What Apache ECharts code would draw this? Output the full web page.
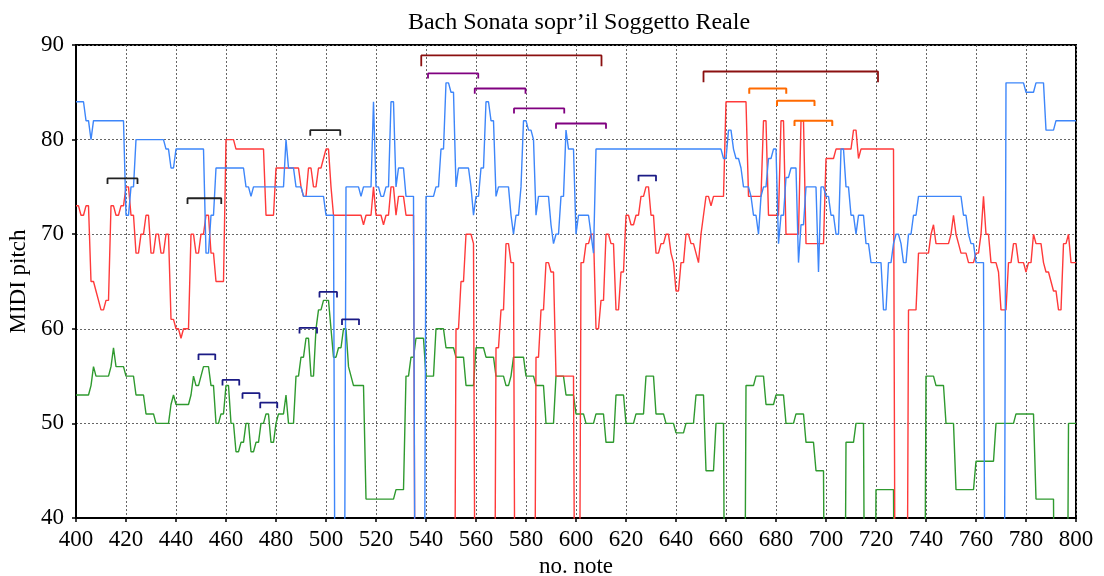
<!DOCTYPE html>
<html><head><meta charset="utf-8">
<script src="https://cdn.jsdelivr.net/npm/echarts@6/dist/echarts.min.js"></script>
<style>html,body{margin:0;padding:0;background:#fff}#c{width:1104px;height:576px}</style>
</head><body><div id="c"></div>
<script>
const titleText = 'Bach Sonata sopr\u2019il Soggetto Reale';
const xName = 'no. note';
const yName = 'MIDI pitch';
const firstNote = 400;

// top voice (blue)
const soprano = [
84,84,84,84,82,82,80,82,82,82,
82,82,82,82,82,82,82,82,82,82,
72,72,75,75,80,80,80,80,80,80,
80,80,80,80,80,80,79,79,77,77,
79,79,79,79,79,79,79,79,79,79,
79,79,68,68,72,72,77,77,77,77,
77,77,77,77,77,77,77,77,75,75,
74,75,75,75,75,75,75,75,75,75,
75,75,75,75,80,77,77,77,75,75,
75,74,74,74,74,74,74,74,74,74,
72,72,72,72,0,0,0,0,75,75,
75,75,75,75,74,75,75,75,75,84,
75,75,74,74,75,75,84,84,75,77,
77,77,74,74,74,74,0,0,0,0,
74,74,74,74,75,75,79,79,86,86,
85,85,75,77,77,77,77,77,75,72,
74,74,77,77,84,84,82,82,74,75,
75,75,75,75,72,70,72,72,75,82,
82,81,81,80,72,74,74,74,74,74,
71,69,70,70,74,74,81,79,79,79,
70,72,72,72,72,72,70,68,79,79,
79,79,79,79,79,79,79,79,79,79,
79,79,79,79,79,79,79,79,79,79,
79,79,79,79,79,79,79,79,79,79,
79,79,79,79,79,79,79,79,79,79,
79,79,79,79,79,79,79,79,79,78,
78,81,81,79,78,78,77,75,75,75,
74,72,72,70,74,75,75,78,78,79,
79,69,72,72,76,76,77,77,77,67,
71,71,75,75,75,75,75,66,75,75,
74,74,72,72,70,70,79,79,75,75,
72,72,70,72,72,72,69,69,67,67,
67,67,67,62,62,67,67,69,70,70,
69,67,67,70,70,72,72,74,74,74,
74,74,74,74,74,74,74,74,74,74,
74,74,74,74,74,72,72,70,69,69,
67,67,67,67,0,0,0,0,0,0,
0,0,86,86,86,86,86,86,86,86,
85,85,85,85,86,86,86,86,81,81,
81,81,82,82,82,82,82,82,82,82,
82];

// middle voice (red)
const alto = [
73,73,72,72,73,73,65,65,64,63,
62,62,63,63,73,73,72,72,73,73,
75,75,72,72,68,68,70,70,72,72,
68,68,70,70,68,68,70,70,61,61,
60,60,59,60,60,60,70,70,68,68,
70,70,72,72,68,68,65,65,65,65,
80,80,80,80,79,79,79,79,79,79,
79,79,79,79,79,79,72,72,72,72,
77,77,77,77,77,77,77,77,77,77,
75,74,74,77,77,75,75,77,77,78,
79,79,75,72,72,72,72,72,72,72,
72,72,72,72,72,71,72,72,72,75,
72,72,72,71,72,72,75,75,72,74,
74,74,72,72,72,72,0,0,0,0,
0,0,0,0,0,0,0,0,0,0,
0,0,60,60,65,65,70,70,70,69,
0,0,0,0,0,0,0,0,58,58,
62,62,69,69,67,67,0,0,0,0,
0,0,0,0,57,57,62,62,67,67,
66,66,55,55,55,55,55,55,55,55,
0,0,67,67,69,69,70,70,60,60,
63,63,70,70,69,69,62,62,66,66,
72,72,71,71,72,72,74,74,75,75,
72,72,68,68,69,69,70,70,68,67,
64,64,67,67,70,70,69,69,68,67,
70,72,74,74,73,74,74,74,74,74,
84,84,84,84,84,84,84,84,84,74,
74,74,74,74,74,82,82,72,72,72,
72,72,82,82,70,70,70,70,70,70,
82,82,69,69,69,69,69,69,69,69,
78,78,78,78,79,79,79,79,79,79,
79,81,81,78,79,79,79,79,79,79,
79,79,79,79,79,79,79,79,0,0,
0,0,0,62,62,62,62,68,68,68,
68,68,70,71,69,69,69,69,69,69,
70,72,70,69,68,68,68,67,67,67,
68,68,70,74,70,70,67,67,67,66,
62,62,62,67,67,69,69,67,67,67,
66,67,67,70,69,69,69,67,66,66,
65,64,64,62,62,69,69,70,67,67,
67];

// bottom voice (green)
const bass = [
53,53,53,53,53,53,54,56,55,55,
55,55,55,55,56,58,56,56,56,56,
55,55,55,55,53,53,53,53,51,51,
51,51,50,50,50,50,50,50,52,53,
52,52,52,52,52,52,53,55,54,54,
55,56,56,56,54,54,50,50,51,51,
54,54,50,50,47,47,48,48,50,50,
47,47,48,48,50,50,51,51,48,48,
50,51,51,51,53,50,50,50,55,55,
57,57,59,59,55,55,60,62,62,63,
63,63,60,57,57,58,58,60,60,56,
55,54,54,54,54,54,42,42,42,42,
42,42,42,42,42,42,42,42,43,43,
43,43,55,55,57,57,59,59,59,59,
55,55,55,55,60,60,60,60,58,58,
58,58,57,57,57,57,54,54,54,54,
58,58,58,58,57,57,57,57,55,55,
55,55,54,54,55,57,57,57,57,57,
55,55,55,55,54,54,54,54,50,50,
50,50,55,55,55,55,53,53,53,53,
51,51,51,51,50,50,50,50,51,51,
51,51,48,48,48,48,53,53,53,53,
50,50,50,50,51,51,51,51,55,55,
55,55,51,51,51,51,50,50,50,50,
49,49,49,49,50,50,50,50,53,53,
53,53,45,45,45,45,50,50,50,50,
0,0,0,0,0,0,0,0,54,54,
54,54,55,55,55,55,52,52,52,52,
53,53,53,53,50,50,50,50,51,51,
51,51,48,48,48,48,45,45,45,45,
0,0,0,0,0,0,0,0,48,48,
48,48,50,50,50,50,0,0,0,0,
43,43,43,43,43,43,43,43,0,0,
0,0,0,0,0,0,0,0,0,0,
55,55,55,55,54,54,54,54,50,50,
50,50,43,43,43,43,43,43,43,43,
46,46,46,46,46,46,46,46,50,50,
50,50,50,50,50,50,51,51,51,51,
51,51,51,51,42,42,42,42,42,42,
42,42,0,0,0,0,0,50,50,50,
50];

// brackets: [startNote, endNote, pitch level]
const bracketsBlack = [[412.6,424.6,75.9],[444.6,458.1,73.8],[493.7,505.7,81.0]];
const bracketsNavy = [[449.0,455.7,57.3],[458.6,465.3,54.6],[466.6,473.4,53.2],[473.7,480.5,52.2],
  [489.4,496.4,60.1],[497.4,504.4,63.9],[506.4,513.2,61.0],[625.0,632.0,76.2]];
const bracketsMaroon = [[538.1,610.2,88.9],[651.0,720.8,87.2]];
const bracketsPurple = [[540.8,560.9,87.0],[559.5,579.8,85.4],[575.2,595.3,83.3],[592.0,612.0,81.7]];
const bracketsOrange = [[669.3,684.1,85.4],[680.4,695.4,84.1],[687.4,702.5,82.0]];

const FONT = 'Liberation Serif';
function voice(arr, color) {
  return {
    type: 'line', data: arr.map((v, i) => [firstNote + i, v]),
    showSymbol: false, symbol: 'none', clip: true, z: 3,
    lineStyle: { color: color, width: 1.4 }, emphasis: { disabled: true }
  };
}
function brackets(list, color, depth, width) {
  return list.map(b => ({
    type: 'line', symbol: 'none', clip: false, z: 4,
    data: [[b[0], b[2] - depth], [b[0], b[2]], [b[1], b[2]], [b[1], b[2] - depth]],
    lineStyle: { color: color, width: width }, emphasis: { disabled: true }
  }));
}

const series = [
  voice(bass, '#2f9a2f'),
  voice(alto, '#ff3a3a'),
  voice(soprano, '#3d86fa'),
  ...brackets(bracketsBlack, '#222222', 0.6, 1.8),
  ...brackets(bracketsNavy, '#1b1b85', 0.6, 1.8),
  ...brackets(bracketsMaroon, '#8b1010', 1.15, 1.8),
  ...brackets(bracketsPurple, '#800080', 0.55, 1.8),
  ...brackets(bracketsOrange, '#ff6a00', 0.55, 2)
];

const chart = echarts.init(document.getElementById('c'), null, { renderer: 'canvas' });
chart.setOption({
  animation: false,
  backgroundColor: '#ffffff',
  title: {
    text: titleText, left: 574, top: 6, textAlign: 'center',
    textStyle: { fontFamily: FONT, fontSize: 24, fontWeight: 'normal', color: '#000' }
  },
  grid: { left: 76, right: 28, top: 45, bottom: 58, containLabel: false, outerBoundsMode: 'none',
    show: true, borderColor: '#000', borderWidth: 2, backgroundColor: 'transparent' },
  xAxis: {
    type: 'value', min: 400, max: 800, interval: 20,
    name: xName, nameLocation: 'middle', nameGap: 35,
    nameTextStyle: { fontFamily: FONT, fontSize: 23, color: '#000' },
    axisLine: { show: true, lineStyle: { color: '#000', width: 2 } },
    axisTick: { show: true, inside: false, length: 4, lineStyle: { color: '#000', width: 1.5 } },
    axisLabel: { fontFamily: FONT, fontSize: 23, color: '#000', margin: 10 },
    splitLine: { show: true, lineStyle: { color: '#666', type: [2, 2], width: 1 } }
  },
  yAxis: {
    type: 'value', min: 40, max: 90, interval: 10,
    name: yName, nameLocation: 'middle', nameGap: 42,
    nameTextStyle: { fontFamily: FONT, fontSize: 23, color: '#000' },
    axisLine: { show: true, lineStyle: { color: '#000', width: 2 } },
    axisTick: { show: true, inside: false, length: 4, lineStyle: { color: '#000', width: 1.5 } },
    axisLabel: { fontFamily: FONT, fontSize: 23, color: '#000', margin: 12 },
    splitLine: { show: true, lineStyle: { color: '#666', type: [2, 2], width: 1 } }
  },
  series: series
});
</script></body></html>
